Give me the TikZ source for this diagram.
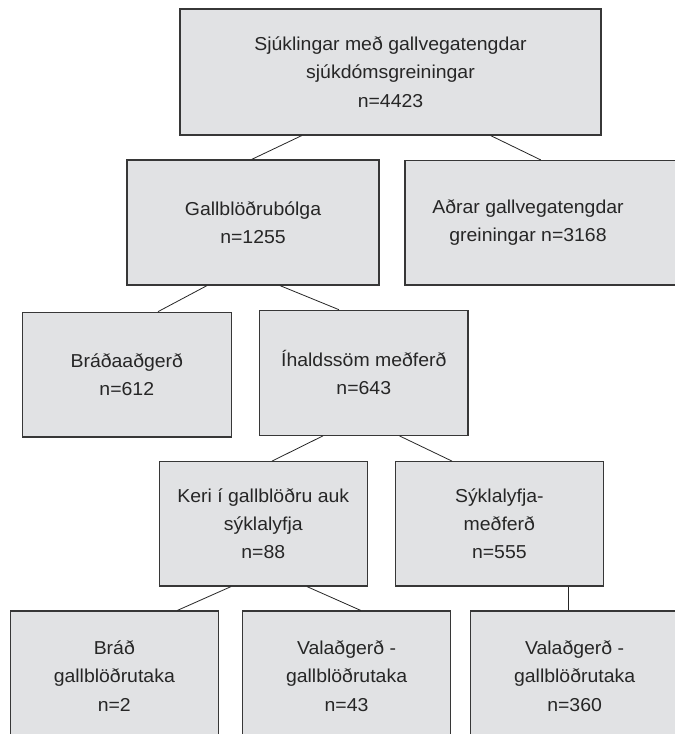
\documentclass[tikz,border=0pt]{standalone}
\usepackage{fontspec}
\setmainfont{Liberation Sans}[FakeStretch=1.04]
\definecolor{boxfill}{RGB}{225,226,228}
\definecolor{boxline}{RGB}{55,55,55}
\begin{document}
\begin{tikzpicture}[x=1pt,y=-1pt,
  box/.style={draw=boxline,line width=1.2pt,fill=boxfill,rectangle,inner sep=0pt,
    align=center,font=\fontsize{18.7}{28.2}\selectfont,text=black!85},
  txt/.style={inner sep=0pt,align=center,font=\fontsize{18.7}{28.2}\selectfont,text=black!85},
  link/.style={draw=black!85,line width=0.8pt}]
\useasboundingbox (0,0) rectangle (675,734);
\clip (0,0) rectangle (675,734);
\fill[white] (0,0) rectangle (675,734);

\node[box,minimum width=421pt,minimum height=126pt] (top) at (390.5,72)
  {Sjúklingar með gallvegatengdar\\sjúkdómsgreiningar\\n=4423};
\node[box,minimum width=252pt,minimum height=125pt] (gall) at (253,222.5)
  {Gallblöðrubólga\\n=1255};
\node[box,minimum width=275pt,minimum height=124.5pt] (other) at (542.5,222.75) {};
\node[txt] (othertext) at (528,222.5) {Aðrar gallvegatengdar\\greiningar n=3168};
\node[box,minimum width=208.8pt,minimum height=124.7pt] (brada) at (126.8,374.6)
  {Bráðaaðgerð\\n=612};
\node[box,minimum width=208.4pt,minimum height=125pt] (ihald) at (363.8,372.8)
  {Íhaldssöm meðferð\\n=643};
\node[box,minimum width=208pt,minimum height=124.3pt] (keri) at (263.25,523.85)
  {Keri í gallblöðru auk\\sýklalyfja\\n=88};
\node[box,minimum width=208.3pt,minimum height=124.3pt] (syk) at (499.35,523.85)
  {Sýklalyfja-\\meðferð\\n=555};
\node[box,minimum width=208pt,minimum height=130pt] (bthree) at (114.3,676)
  {Bráð\\gallblöðrutaka\\n=2};
\node[box,minimum width=208.3pt,minimum height=130pt] (vala) at (346.55,676)
  {Valaðgerð -\\gallblöðrutaka\\n=43};
\node[box,minimum width=208.2pt,minimum height=130pt] (valb) at (574.6,676)
  {Valaðgerð -\\gallblöðrutaka\\n=360};

\draw[link] ([xshift=-88.8pt]top.south) -- ([xshift=-1.3pt]gall.north);
\draw[link] ([xshift=100.2pt]top.south) -- ([xshift=-1.8pt]other.north);
\draw[link] ([xshift=-46pt]gall.south) -- ([xshift=31.2pt]brada.north);
\draw[link] ([xshift=27pt]gall.south) -- ([xshift=-24.8pt]ihald.north);
\draw[link] ([xshift=-40.9pt]ihald.south) -- ([xshift=8.75pt]keri.north);
\draw[link] ([xshift=35.7pt]ihald.south) -- ([xshift=-47.35pt]syk.north);
\draw[link] ([xshift=-32.25pt]keri.south) -- ([xshift=63.1pt]bthree.north);
\draw[link] ([xshift=43.75pt]keri.south) -- ([xshift=14.15pt]vala.north);
\draw[link] ([xshift=68.85pt]syk.south) -- ([xshift=-6.4pt]valb.north);
\end{tikzpicture}
\end{document}
